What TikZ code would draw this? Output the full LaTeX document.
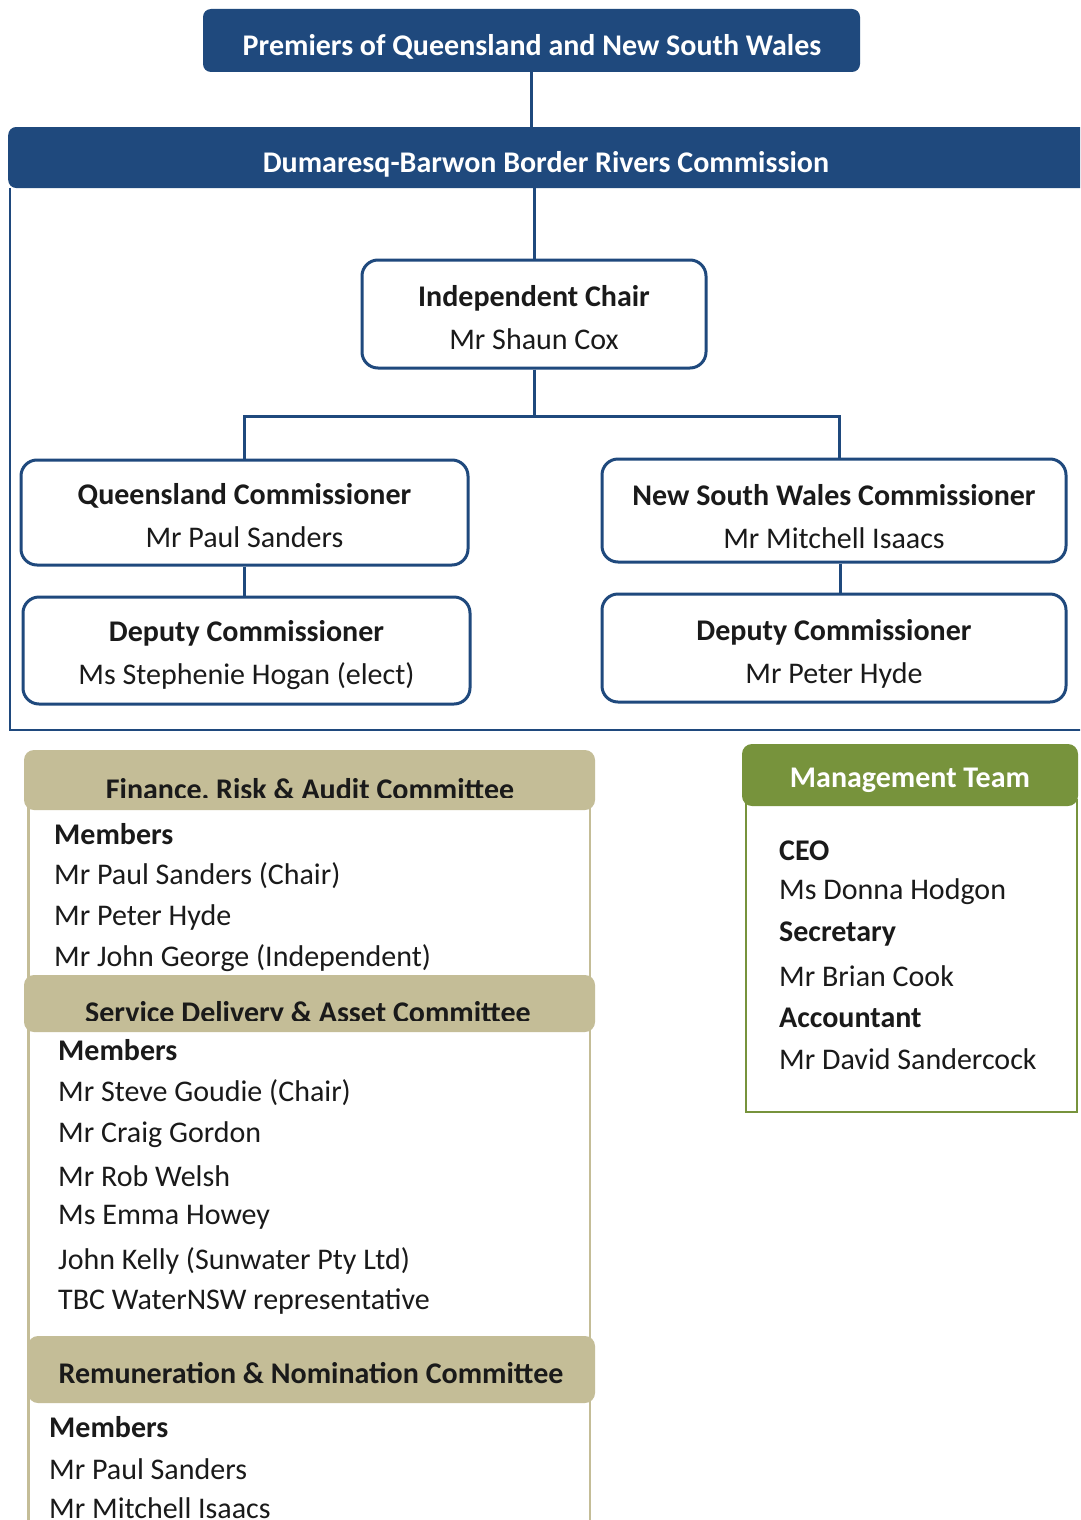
\documentclass[tikz,border=0pt]{standalone}
\usepackage{fontspec}
\setmainfont{Carlito}
\definecolor{navy}{HTML}{1F497D}
\definecolor{tanc}{HTML}{C4BD97}
\definecolor{olivec}{HTML}{77933C}
\definecolor{ink}{HTML}{1A1A1A}
\begin{document}
\begin{tikzpicture}[x=1pt,y=-1pt,
  bar/.style={fill=navy, rounded corners=8pt, inner sep=0pt},
  bartext/.style={text=white, font=\bfseries\fontsize{30}{36}\selectfont, inner sep=0pt},
  orgbox/.style={draw=navy, line width=3pt, rounded corners=16pt, fill=white, inner sep=0pt},
  boxtext/.style={align=center, font=\fontsize{30}{43}\selectfont, text=ink, inner sep=0pt},
  conn/.style={draw=navy, line width=3pt},
  tanhead/.style={fill=tanc, rounded corners=10pt, inner sep=0pt},
  headtext/.style={text=ink, font=\bfseries\fontsize{30}{36}\selectfont, inner sep=0pt},
  item/.style={anchor=west, text=ink, font=\fontsize{30}{36}\selectfont, inner sep=0pt},
  itemb/.style={item, font=\bfseries\fontsize{30}{36}\selectfont},
]
\clip (0,0) rectangle (1080,1520);
\fill[white] (0,0) rectangle (1080,1520);

% top
\node[bar, minimum width=657, minimum height=63] (premiers) at (531.5,40.5) {};
\node[bartext] (premierst) at (532,47) {Premiers of Queensland and New South Wales};
\node[bar, minimum width=1100, minimum height=61, anchor=west] (drbrc) at (8,157.5) {};
\node[bartext] (drbrct) at (546,164) {Dumaresq-Barwon Border Rivers Commission};
\draw[navy, line width=1.8pt] (9.75,188) |- (1090,730);

\node[orgbox, minimum width=344, minimum height=108] (chair) at (534,314) {};
\node[boxtext] (chairt) at ([yshift=-4pt]chair.center) {\textbf{Independent Chair}\\Mr Shaun Cox};
\node[orgbox, minimum width=447, minimum height=105] (qld) at (244.5,512.5) {};
\node[boxtext] (qldt) at ([yshift=-3pt]qld.center) {\textbf{Queensland Commissioner}\\Mr Paul Sanders};
\node[orgbox, minimum width=464, minimum height=103] (nsw) at (834,510.5) {};
\node[boxtext] (nswt) at ([yshift=-6pt]nsw.center) {\textbf{New South Wales Commissioner}\\Mr Mitchell Isaacs};
\node[orgbox, minimum width=447, minimum height=107] (qdep) at (246.5,650.5) {};
\node[boxtext] (qdept) at ([yshift=-5pt]qdep.center) {\textbf{Deputy Commissioner}\\Ms Stephenie Hogan (elect)};
\node[orgbox, minimum width=464, minimum height=108] (ndep) at (834,648) {};
\node[boxtext] (ndept) at ([yshift=-6pt]ndep.center) {\textbf{Deputy Commissioner}\\Mr Peter Hyde};

\draw[conn] (premiers.south) -- (premiers.south |- drbrc.north);
\draw[conn] (chair.north |- drbrc.south) -- (chair.north);
\draw[conn] (chair.south) -- ++(0,47) -| (qld.north);
\draw[conn] (chair.south) -- ++(0,47) -| ([xshift=5pt]nsw.north);
\draw[conn] (qld.south) -- (qld.south |- qdep.north);
\draw[conn] ([xshift=6pt]nsw.south) -- ([xshift=6pt]nsw.south |- ndep.north);

% committees
\draw[tanc, line width=2.5pt] (28.5,800) -- (28.5,1530);
\draw[tanc, line width=2.5pt] (590,800) -- (590,1530);

\node[tanhead, minimum width=571, minimum height=60] (fin) at (309.5,780) {};
\begin{scope}
\clip (24,750) rectangle (595,797.5);
\node[headtext] (fint) at (310,791) {Finance, Risk \& Audit Committee};
\end{scope}
\node[itemb] (f0) at (54,834) {Members};
\node[item] (f1) at (54,876) {Mr Paul Sanders (Chair)};
\node[item] (f2) at (54,917) {Mr Peter Hyde};
\node[item] (f3) at (54,958) {Mr John George (Independent)};

\node[tanhead, minimum width=571, minimum height=57] (svc) at (309.5,1003.5) {};
\begin{scope}
\clip (24,975) rectangle (595,1020.5);
\node[headtext] (svct) at (308,1014) {Service Delivery \& Asset Committee};
\end{scope}
\node[itemb] (s0) at (58,1050) {Members};
\node[item] (s1) at (58,1093) {Mr Steve Goudie (Chair)};
\node[item] (s2) at (58,1135) {Mr Craig Gordon};
\node[item] (s3) at (58,1176) {Mr Rob Welsh};
\node[item] (s4) at (58,1217) {Ms Emma Howey};
\node[item] (s5) at (58,1261) {John Kelly (Sunwater Pty Ltd)};
\node[item] (s6) at (58,1302) {TBC WaterNSW representative};

\node[tanhead, minimum width=567, minimum height=67] (rem) at (311.5,1369.5) {};
\node[headtext] (remt) at (311,1373) {Remuneration \& Nomination Committee};
\node[itemb] (r0) at (49,1427) {Members};
\node[item] (r1) at (49,1469) {Mr Paul Sanders};
\node[item] (r2) at (49,1508) {Mr Mitchell Isaacs};

% management
\draw[olivec, line width=2pt] (746,800) rectangle (1077,1112);
\node[fill=olivec, rounded corners=10pt, minimum width=336, minimum height=62, inner sep=0pt] (mgmt) at (910,775) {};
\node[bartext] (mgmtt) at (910,780) {Management Team};
\node[itemb] (g0) at (779,851) {CEO};
\node[item] (g1) at (779,892) {Ms Donna Hodgon};
\node[itemb] (g2) at (779,934) {Secretary};
\node[item] (g3) at (779,976) {Mr Brian Cook};
\node[itemb] (g4) at (779,1018) {Accountant};
\node[item] (g5) at (779,1059) {Mr David Sandercock};
\end{tikzpicture}
\end{document}
